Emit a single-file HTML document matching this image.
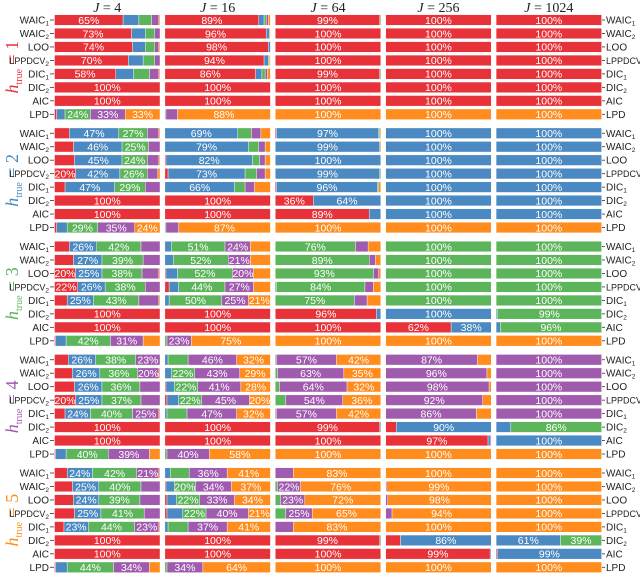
<!DOCTYPE html>
<html><head><meta charset="utf-8">
<style>
html,body{margin:0;padding:0;background:#fff;}
svg{display:block;font-family:"Liberation Sans",sans-serif;}
</style></head>
<body>
<svg id="chart" width="640" height="573" viewBox="0 0 640 573" xmlns="http://www.w3.org/2000/svg"></svg>
<script>
const columnTitles = ["4","16","64","256","1024"];
const methods = ["WAIC\u2081","WAIC\u2082","LOO","LPPDCV\u2082","DIC\u2081","DIC\u2082","AIC","LPD"];
const methodBase = ["WAIC","WAIC","LOO","LPPDCV","DIC","DIC","AIC","LPD"];
const methodSub = ["1","2","","2","1","2","",""];
const hTrue = ["1","2","3","4","5"];
const categoryColors = ["#e8323a","#4a89c1","#5cb55a","#a05aae","#ff8c1c"];
// shares[group][column][method] = [h1,h2,h3,h4,h5] percentages
const shareH1 = [
 [[65,15,12,7,1],[73,13,9,5,0],[74,12,9,4,1],[70,14,11,5,0],[58,17,15,9,1],[100,0,0,0,0],[100,0,0,0,0],[2,8,24,33,33]],
 [[89,5,2,2,2],[96,3,0,0,1],[98,2,0,0,0],[94,4,1,0,1],[86,6,3,2,3],[100,0,0,0,0],[100,0,0,0,0],[0,0,1,11,88]],
 [[99,0,1,0,0],[100,0,0,0,0],[100,0,0,0,0],[100,0,0,0,0],[99,0,1,0,0],[100,0,0,0,0],[100,0,0,0,0],[0,0,0,0,100]],
 [[100,0,0,0,0],[100,0,0,0,0],[100,0,0,0,0],[100,0,0,0,0],[100,0,0,0,0],[100,0,0,0,0],[100,0,0,0,0],[0,0,0,0,100]],
 [[100,0,0,0,0],[100,0,0,0,0],[100,0,0,0,0],[100,0,0,0,0],[100,0,0,0,0],[100,0,0,0,0],[100,0,0,0,0],[0,0,0,0,100]]
];
const shareH2 = [
 [[14,47,27,11,1],[18,46,25,11,0],[19,45,24,11,1],[20,42,26,10,2],[10,47,29,14,0],[100,0,0,0,0],[100,0,0,0,0],[2,10,29,35,24]],
 [[0,69,13,9,9],[0,79,10,6,5],[1,82,7,5,5],[3,73,11,8,5],[0,66,10,9,15],[100,0,0,0,0],[100,0,0,0,0],[0,0,1,12,87]],
 [[1,97,1,0,1],[0,99,0,0,1],[0,100,0,0,0],[0,99,1,0,0],[1,96,1,0,2],[36,64,0,0,0],[89,11,0,0,0],[0,0,0,0,100]],
 [[0,100,0,0,0],[0,100,0,0,0],[0,100,0,0,0],[0,100,0,0,0],[0,100,0,0,0],[0,100,0,0,0],[0,100,0,0,0],[0,0,0,0,100]],
 [[0,100,0,0,0],[0,100,0,0,0],[0,100,0,0,0],[0,100,0,0,0],[0,100,0,0,0],[0,100,0,0,0],[0,100,0,0,0],[0,0,0,0,100]]
];
const shareH3 = [
 [[14,26,42,18,0],[18,27,39,16,0],[20,25,38,16,1],[22,26,38,14,0],[12,25,43,19,1],[100,0,0,0,0],[100,0,0,0,0],[1,10,42,31,16]],
 [[0,6,51,24,19],[0,8,52,21,19],[1,11,52,20,16],[4,9,44,27,16],[0,4,50,25,21],[100,0,0,0,0],[100,0,0,0,0],[0,0,2,23,75]],
 [[0,0,76,12,12],[0,0,89,6,5],[0,0,93,5,2],[0,1,84,8,7],[0,0,75,12,13],[96,4,0,0,0],[100,0,0,0,0],[0,0,0,0,100]],
 [[0,0,100,0,0],[0,0,100,0,0],[0,0,100,0,0],[0,0,100,0,0],[0,0,100,0,0],[0,100,0,0,0],[62,38,0,0,0],[0,0,0,0,100]],
 [[0,0,100,0,0],[0,0,100,0,0],[0,0,100,0,0],[0,0,100,0,0],[0,0,100,0,0],[0,1,99,0,0],[0,4,96,0,0],[0,0,0,0,100]]
];
const shareH4 = [
 [[13,26,38,23,0],[17,26,36,20,1],[19,26,36,19,0],[20,25,37,18,0],[10,24,40,25,1],[100,0,0,0,0],[100,0,0,0,0],[1,10,40,39,10]],
 [[0,3,19,46,32],[0,6,22,43,29],[1,8,22,41,28],[2,11,22,45,20],[0,2,19,47,32],[100,0,0,0,0],[100,0,0,0,0],[0,0,2,40,58]],
 [[0,0,1,57,42],[0,0,2,63,35],[0,0,4,64,32],[0,0,10,54,36],[0,0,1,57,42],[99,1,0,0,0],[100,0,0,0,0],[0,0,0,0,100]],
 [[0,0,0,87,13],[0,0,0,96,4],[0,0,0,98,2],[0,0,0,92,8],[0,0,0,86,14],[10,90,0,0,0],[97,2,0,1,0],[0,0,0,0,100]],
 [[0,0,0,100,0],[0,0,0,100,0],[0,0,0,100,0],[0,0,0,100,0],[0,0,0,100,0],[0,14,86,0,0],[0,100,0,0,0],[0,0,0,0,100]]
];
const shareH5 = [
 [[12,24,42,21,1],[17,25,40,18,0],[18,24,39,19,0],[19,25,41,15,0],[9,23,44,23,1],[100,0,0,0,0],[100,0,0,0,0],[1,11,44,34,10]],
 [[0,5,18,36,41],[1,8,20,34,37],[2,9,22,33,34],[2,15,22,40,21],[0,3,19,37,41],[100,0,0,0,0],[100,0,0,0,0],[0,0,2,34,64]],
 [[0,0,0,17,83],[0,0,2,22,76],[0,0,5,23,72],[0,0,10,25,65],[0,0,0,17,83],[99,1,0,0,0],[100,0,0,0,0],[0,0,0,0,100]],
 [[0,0,0,0,100],[0,0,0,1,99],[0,0,0,2,98],[0,0,0,6,94],[0,0,0,0,100],[14,86,0,0,0],[99,1,0,0,0],[0,0,0,0,100]],
 [[0,0,0,0,100],[0,0,0,0,100],[0,0,0,0,100],[0,0,0,0,100],[0,0,0,0,100],[0,61,39,0,0],[1,99,0,0,0],[0,0,0,0,100]]
];
const shares = [shareH1, shareH2, shareH3, shareH4, shareH5];

const NS = "http://www.w3.org/2000/svg";
const svg = document.getElementById("chart");
const colX0 = 54.5, colStep = 110.4, colW = 105.5;
const rowY0 = 14.7, groupStep = 113.25, rowStep = 13.47, barH = 10.6;
function xScale(col, pct){ return colX0 + col*colStep + colW*pct/100; }
function yScale(g, r){ return rowY0 + g*groupStep + r*rowStep; }
function mk(tag, attrs, parent){
  const e = document.createElementNS(NS, tag);
  for (const k in attrs) e.setAttribute(k, attrs[k]);
  (parent||svg).appendChild(e);
  return e;
}
columnTitles.forEach((t, c) => {
  const tx = mk("text", {x: xScale(c,50), y: 12, "text-anchor":"middle", "font-size":"14", "font-family":"'Liberation Serif',serif", fill:"#222"});
  
  
  tx.innerHTML = '<tspan font-style="italic">J</tspan> = ' + t;
});
shares.forEach((grp, g) => {
  const cy = yScale(g,0) + (yScale(g,7)+barH - yScale(g,0))/2;
  const gg = mk("g", {transform: "translate(18," + cy + ") rotate(-90)"});
  const gl = mk("text", {x: 0, y: 0, "text-anchor":"middle", "font-size":"18", "font-family":"'Liberation Serif',serif", fill: categoryColors[g]}, gg);
  
  
  gl.innerHTML = '<tspan font-style="italic">h</tspan><tspan font-size="10" dy="4">true</tspan><tspan dy="-4"> = ' + hTrue[g] + '</tspan>';
  methods.forEach((m, r) => {
    const y = yScale(g, r);
    const fs = r === 3 ? "9" : "10";
    const ll = mk("text", {x: 49, y: y + barH/2 + 3.5, "text-anchor":"end", "font-size":fs, fill:"#222"});
    
    
    ll.innerHTML = methodBase[r] + (methodSub[r] ? '<tspan font-size="6.5" dy="2">' + methodSub[r] + '</tspan>' : '');
    mk("line", {x1: 50, x2: 54, y1: y+barH/2, y2: y+barH/2, stroke:"#333", "stroke-width":"0.8"});
    const rl = mk("text", {x: 606, y: y + barH/2 + 3.5, "text-anchor":"start", "font-size":fs, fill:"#222"});
    
    
    rl.innerHTML = methodBase[r] + (methodSub[r] ? '<tspan font-size="6.5" dy="2">' + methodSub[r] + '</tspan>' : '');
    mk("line", {x1: 602, x2: 605, y1: y+barH/2, y2: y+barH/2, stroke:"#333", "stroke-width":"0.8"});
    grp.forEach((colData, c) => {
      const vals = colData[r];
      let cum = 0;
      vals.forEach((v, k) => {
        if (v <= 0) return;
        const x1 = xScale(c, cum), x2 = xScale(c, cum + v);
        const rect = mk("rect", {x: x1, y: y, width: Math.max(0.6, x2-x1), height: barH, fill: categoryColors[k], stroke:"#fff", "stroke-width":"0.4"});
        
        
        if (v >= 20) {
          const t = mk("text", {x: (x1+x2)/2, y: y + barH/2 + 3.8, "text-anchor":"middle", "font-size":"10.5", fill:"#fff"});
          
          
          t.textContent = v + "%";
        }
        cum += v;
      });
    });
  });
});
</script>
</body></html>
